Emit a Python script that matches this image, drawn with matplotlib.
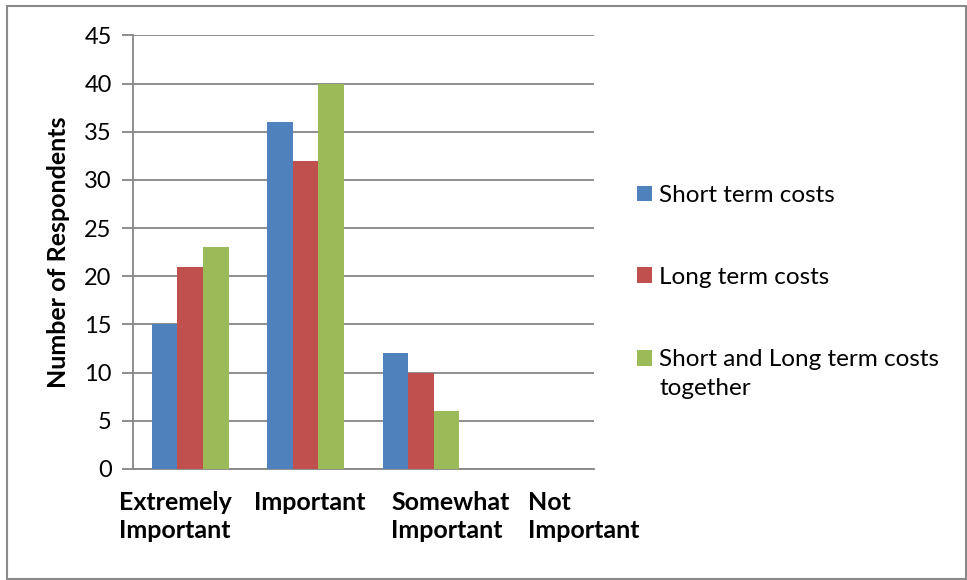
import matplotlib
matplotlib.use("Agg")
import matplotlib.pyplot as plt
from matplotlib.patches import Rectangle
import numpy as np

plt.rcParams['font.family'] = ['Lato', 'DejaVu Sans']

categories = ["Extremely\nImportant", "Important", "Somewhat\nImportant", "Not\nImportant"]
series_names = ["Short term costs", "Long term costs", "Short and Long term costs\ntogether"]
short_term = [15, 36, 12, 0]
long_term = [21, 32, 10, 0]
both_terms = [23, 40, 6, 0]
colors = ["#4F81BD", "#C0504D", "#9BBB59"]
y_ticks = list(range(0, 46, 5))

fig = plt.figure(figsize=(9.67, 5.8), dpi=100)
ax = fig.add_axes([0.1371, 0.1914, 0.4772, 0.7477])

x = np.arange(len(categories)) + 0.5
bar_w = 1 / 4.5
handles = []
for i, (vals, name, c) in enumerate(zip([short_term, long_term, both_terms], series_names, colors)):
    b = ax.bar(x + (i - 1) * bar_w, vals, width=bar_w, color=c, label=name, zorder=3)
    handles.append(b)

ax.set_xlim(0, len(categories))
ax.set_ylim(0, 45)
ax.set_yticks(y_ticks)
ax.tick_params(axis='y', length=8, width=1.3, color="#868686", labelsize=17, pad=7)
ax.tick_params(axis='x', length=0, labelbottom=False)
ax.grid(axis='y', color="#868686", linewidth=1.3, zorder=0)
for s in ["top", "right"]:
    ax.spines[s].set_visible(False)
for s in ["left", "bottom"]:
    ax.spines[s].set_color("#868686")
    ax.spines[s].set_linewidth(1.3)

# category labels, left aligned under each group
label_left = [-0.12, 1.05, 2.24, 3.43]
for lx, lab in zip(label_left, categories):
    ax.text(lx, -2.3, lab, ha='left', va='top', fontsize=18, fontweight='bold',
            linespacing=1.25, transform=ax.transData, clip_on=False)

ax.set_ylabel("Number of Respondents", fontsize=18, fontweight='bold', labelpad=10)

leg = ax.legend(handles=handles, labels=series_names, loc='upper left',
                bbox_to_anchor=(1.045, 0.705), frameon=False, fontsize=17.5,
                handlelength=0.62, handleheight=0.62, handletextpad=0.3,
                labelspacing=2.5)
for t in leg.get_texts():
    t.set_linespacing(1.48)
# keep the last swatch level with the first line of its two-line label
sw = leg.legend_handles[2]
sw.set_y(sw.get_y() + 11.5)

fig.add_artist(Rectangle((7 / 967, 1 / 580), 959 / 967, 573 / 580,
                         transform=fig.transFigure, fill=False,
                         edgecolor="#898989", linewidth=1.5))

fig.savefig("out.png", dpi=100)
